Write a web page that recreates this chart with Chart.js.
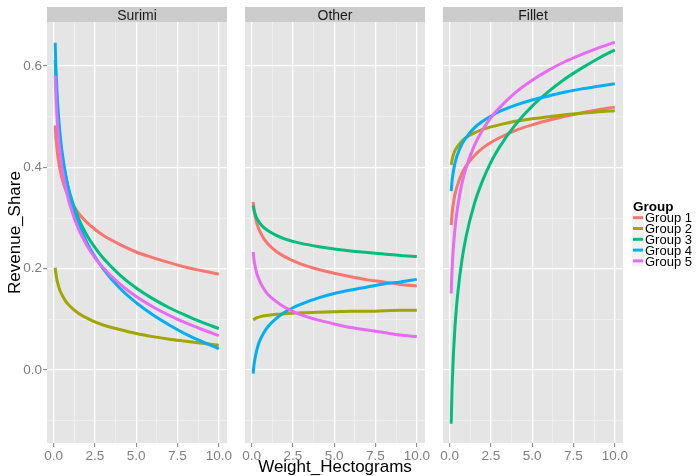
<!DOCTYPE html>
<html><head><meta charset="utf-8">
<script src="https://cdn.jsdelivr.net/npm/chart.js@4/dist/chart.umd.min.js"></script>
<style>
html,body{margin:0;padding:0;background:#fff;}
#wrap{position:relative;width:696px;height:476px;overflow:hidden;}
canvas{position:absolute;left:0;top:0;}
</style></head><body>
<div id="wrap">
<canvas id="c0" width="696" height="476"></canvas>
<canvas id="c1" width="696" height="476"></canvas>
<canvas id="c2" width="696" height="476"></canvas>
</div>
<script>
// ---- data ----
const weightHg = [0.1,0.15,0.2,0.3,0.4,0.5,0.75,1,1.5,2,2.5,3,4,5,6,7,8,9,10];
const groups = ['Group 1','Group 2','Group 3','Group 4','Group 5'];
const panels = ['Surimi','Other','Fillet'];
const xTicks = [0,1.25,2.5,3.75,5,6.25,7.5,8.75,10];
const yTicks = [-0.1,0,0.1,0.2,0.3,0.4,0.5,0.6];

const surimiShare = [
  [0.483,0.457,0.439,0.413,0.395,0.380,0.354,0.336,0.310,0.292,0.278,0.266,0.248,0.233,0.222,0.212,0.203,0.196,0.189],
  [0.202,0.189,0.179,0.166,0.156,0.149,0.135,0.126,0.112,0.103,0.095,0.089,0.080,0.072,0.066,0.061,0.057,0.053,0.049],
  [0.612,0.565,0.532,0.486,0.452,0.427,0.380,0.347,0.300,0.267,0.242,0.221,0.188,0.162,0.141,0.123,0.108,0.094,0.082],
  [0.646,0.593,0.555,0.502,0.464,0.435,0.382,0.344,0.291,0.253,0.224,0.200,0.162,0.133,0.109,0.089,0.071,0.056,0.042],
  [0.581,0.536,0.504,0.459,0.427,0.402,0.357,0.325,0.279,0.247,0.222,0.202,0.170,0.145,0.125,0.108,0.093,0.080,0.068]
];
const otherShare = [
  [0.332,0.317,0.307,0.292,0.282,0.274,0.259,0.249,0.234,0.224,0.216,0.209,0.199,0.191,0.184,0.178,0.174,0.169,0.166],
  [0.099,0.100,0.101,0.103,0.104,0.105,0.107,0.108,0.110,0.111,0.112,0.113,0.114,0.115,0.116,0.116,0.117,0.118,0.118],
  [0.325,0.316,0.310,0.301,0.295,0.290,0.281,0.275,0.266,0.259,0.254,0.250,0.244,0.239,0.235,0.232,0.229,0.226,0.224],
  [-0.007,0.010,0.021,0.037,0.049,0.058,0.074,0.086,0.102,0.114,0.123,0.130,0.142,0.151,0.158,0.164,0.170,0.174,0.179],
  [0.233,0.218,0.208,0.193,0.183,0.175,0.160,0.149,0.135,0.124,0.116,0.109,0.099,0.091,0.084,0.079,0.074,0.069,0.066]
];
const filletShare = [
  [0.286,0.307,0.321,0.342,0.356,0.367,0.388,0.403,0.423,0.438,0.449,0.458,0.473,0.484,0.493,0.501,0.508,0.514,0.519],
  [0.405,0.414,0.421,0.431,0.437,0.442,0.452,0.459,0.468,0.475,0.480,0.484,0.491,0.496,0.500,0.504,0.507,0.510,0.512],
  [-0.106,-0.041,0.005,0.070,0.116,0.152,0.217,0.263,0.328,0.374,0.410,0.439,0.485,0.521,0.550,0.575,0.596,0.615,0.632],
  [0.353,0.372,0.385,0.404,0.417,0.427,0.446,0.459,0.478,0.491,0.501,0.510,0.523,0.533,0.541,0.549,0.555,0.560,0.565],
  [0.151,0.195,0.226,0.269,0.300,0.324,0.368,0.399,0.443,0.474,0.498,0.517,0.548,0.572,0.592,0.609,0.623,0.636,0.647]
];

// ---- styles ----
const groupColors = ['#F8766D','#A3A500','#00BF7D','#00B0F6','#E76BF3'];
const FONT = '"Liberation Sans", Arial, Helvetica, sans-serif';

const isMajorX = v => Math.abs(v/2.5 - Math.round(v/2.5)) < 1e-6;
const isMajorY = v => Math.abs(v*5 - Math.round(v*5)) < 1e-6;

const panelPlugin = {
  id: 'panelDeco',
  beforeDraw(chart, args, opts) {
    const {ctx, chartArea: a} = chart;
    ctx.save();
    ctx.fillStyle = '#E5E5E5';
    ctx.fillRect(a.left, a.top, a.right - a.left, a.bottom - a.top);
    ctx.fillStyle = '#CCCCCC';
    ctx.fillRect(a.left, 7, a.right - a.left, a.top - 7);
    ctx.fillStyle = '#1A1A1A';
    ctx.font = '14px ' + FONT;
    ctx.textAlign = 'center';
    ctx.textBaseline = 'alphabetic';
    ctx.fillText(opts.text, (a.left + a.right) / 2, 19.5);
    ctx.restore();
  }
};

const legendPlugin = {
  id: 'ggLegend',
  afterDraw(chart, args, opts) {
    if (!opts.show) return;
    const ctx = chart.ctx;
    ctx.save();
    ctx.fillStyle = '#000';
    ctx.font = 'bold 13.5px ' + FONT;
    ctx.textAlign = 'left';
    ctx.textBaseline = 'alphabetic';
    ctx.fillText('Group', 633, 210.5);
    const ds = chart.data.datasets.slice().sort((p, q) => groups.indexOf(p.label) - groups.indexOf(q.label));
    ds.forEach((d, i) => {
      const cy = 217.7 + i * 10.8;
      ctx.fillStyle = '#F2F2F2';
      ctx.fillRect(632, cy - 5.4, 12, 10.8);
      ctx.strokeStyle = d.borderColor;
      ctx.lineWidth = 3;
      ctx.beginPath(); ctx.moveTo(633, cy); ctx.lineTo(643, cy); ctx.stroke();
      ctx.fillStyle = '#000';
      ctx.font = '13px ' + FONT;
      ctx.fillText(d.label, 645, cy + 4.7);
    });
    ctx.restore();
  }
};

function makeChart(id, idx, share) {
  const first = idx === 0;
  const padLeft = [7, 245, 443][idx];
  const padRight = [696 - 227, 696 - 425, 696 - 623][idx];
  const datasets = groups.map((g, gi) => ({
    label: g,
    data: weightHg.map((w, k) => ({x: w, y: share[gi][k]})),
    borderColor: groupColors[gi],
    backgroundColor: groupColors[gi],
    borderWidth: 3,
    pointRadius: 0,
    fill: false,
    cubicInterpolationMode: 'monotone',
    order: groups.length - 1 - gi
  }));
  return new Chart(document.getElementById(id), {
    type: 'line',
    data: {datasets},
    plugins: [panelPlugin, legendPlugin],
    options: {
      responsive: false,
      animation: false,
      devicePixelRatio: 1,
      layout: {padding: {left: padLeft, right: padRight, top: 22, bottom: 0}},
      plugins: {
        legend: {display: false},
        tooltip: {enabled: false},
        panelDeco: {text: panels[idx]},
        ggLegend: {show: idx === 2}
      },
      scales: {
        x: {
          type: 'linear',
          min: -0.395, max: 10.495,
          afterBuildTicks: s => { s.ticks = xTicks.map(v => ({value: v})); },
          afterFit: s => { s.height = 33; s.paddingLeft = 0; s.paddingRight = 0; },
          ticks: {
            autoSkip: false, maxRotation: 0, minRotation: 0, padding: 1,
            color: '#7F7F7F', font: {size: 13.5, family: FONT},
            callback: v => isMajorX(v) ? v.toFixed(1) : ''
          },
          grid: {
            color: c => isMajorX(c.tick.value) ? '#FFFFFF' : '#F2F2F2',
            lineWidth: c => isMajorX(c.tick.value) ? 1.3 : 0.7,
            tickLength: 4, tickWidth: 1,
            tickColor: c => isMajorX(c.tick.value) ? '#7F7F7F' : 'rgba(0,0,0,0)'
          },
          border: {display: false},
          title: {
            display: idx === 1, text: 'Weight_Hectograms', color: '#000',
            font: {size: 17, family: FONT, lineHeight: 1}, padding: {top: 0, bottom: 0}
          }
        },
        y: {
          type: 'linear',
          min: -0.144, max: 0.687,
          afterBuildTicks: s => { s.ticks = yTicks.map(v => ({value: v})); },
          afterFit: s => { s.width = first ? 40 : 0; s.paddingTop = 0; s.paddingBottom = 0; },
          ticks: {
            display: first, padding: 1,
            color: '#7F7F7F', font: {size: 13.5, family: FONT},
            callback: v => isMajorY(v) ? v.toFixed(1) : ''
          },
          grid: {
            color: c => isMajorY(c.tick.value) ? '#FFFFFF' : '#F2F2F2',
            lineWidth: c => isMajorY(c.tick.value) ? 1.3 : 0.7,
            drawTicks: first, tickLength: 4, tickWidth: 1,
            tickColor: c => isMajorY(c.tick.value) ? '#7F7F7F' : 'rgba(0,0,0,0)'
          },
          border: {display: false},
          title: {
            display: first, text: 'Revenue_Share', color: '#000',
            font: {size: 17, family: FONT, lineHeight: 1}, padding: {top: 0, bottom: 0}
          }
        }
      }
    }
  });
}

makeChart('c0', 0, surimiShare);
makeChart('c1', 1, otherShare);
makeChart('c2', 2, filletShare);
</script>
</body></html>
